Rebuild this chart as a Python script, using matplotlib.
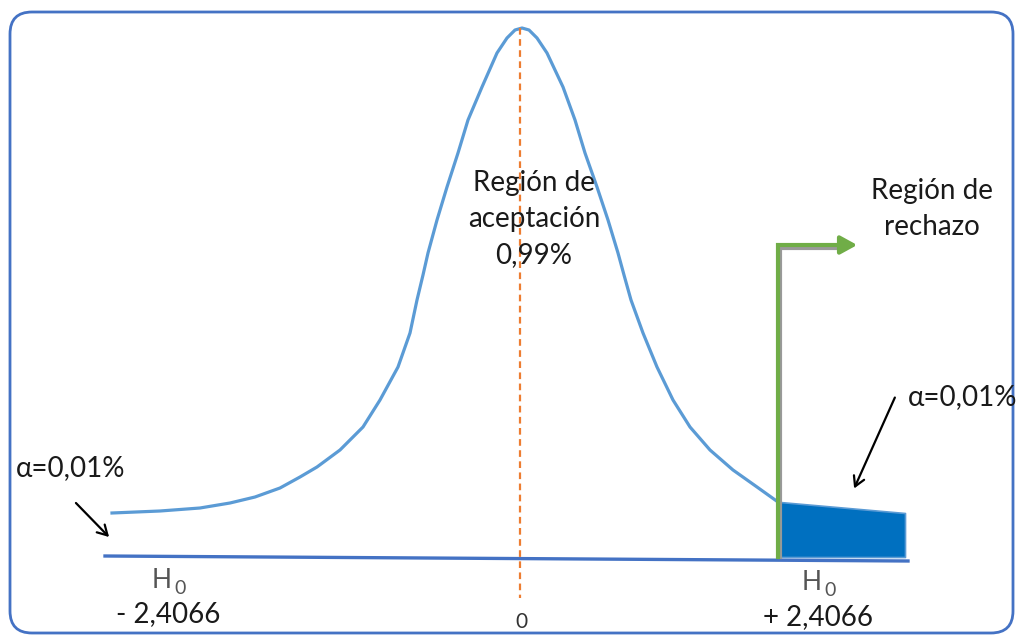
import numpy as np
import matplotlib.pyplot as plt
from matplotlib.patches import FancyBboxPatch

plt.rcParams['font.family'] = ['Lato', 'DejaVu Sans']

# curve (pixel coords, y down)
curve_x = [112, 160, 200, 230, 255, 280, 300, 317, 340, 363, 380, 398, 410, 417, 423, 428, 437, 447, 458, 468,
           482, 497, 507, 515, 522, 529, 537, 547, 563, 575, 585, 597, 608, 618, 624, 631, 643, 657, 673, 690,
           710, 733, 757, 778]
curve_y = [513, 511, 508, 503, 497, 488, 477, 467, 450, 427, 400, 367, 333, 300, 275, 253, 220, 187, 153, 120,
           87, 53, 38, 30, 28, 30, 38, 53, 87, 120, 153, 187, 220, 253, 275, 300, 333, 367, 400, 427,
           450, 470, 487, 502]

# rejection tail
tail_x = [780, 905]
tail_top = [502, 513]
base_y = 557

# baseline
base_x = [105, 908]
base_line_y = [556, 561]

center_x = 520
crit_left = 168
crit_right = 818

blue = '#4472C4'
curve_col = '#5B9BD5'
green = '#70AD47'
orange = '#ED7D31'
txt = '#1a1a1a'

fig = plt.figure(figsize=(10.18, 6.37), dpi=100)
ax = fig.add_axes([0, 0, 1, 1])
ax.set_xlim(0, 1018)
ax.set_ylim(637, 0)
ax.axis('off')

# frame
box = FancyBboxPatch((10, 12), 1003, 621, boxstyle='round,pad=0,rounding_size=22',
                     fill=False, ec=blue, lw=2)
ax.add_patch(box)

ax.plot(curve_x, curve_y, color=curve_col, lw=2.3, solid_joinstyle='round')
ax.fill_between(tail_x, tail_top, base_y, color='#0070C0', ec='#5B9BD5', lw=1.2)
ax.plot(base_x, base_line_y, color=blue, lw=2.4)
ax.plot([center_x, center_x], [28, 598], color=orange, lw=1.6, ls=(0, (3, 2)))

# green arrow with shadow
ax.plot([780, 780, 845], [557, 248, 248], color='#999999', lw=3)
ax.plot([778, 778, 845], [557, 245, 245], color=green, lw=3, solid_joinstyle='miter')
ax.annotate('', xy=(860, 245), xytext=(835, 245),
            arrowprops=dict(arrowstyle='-|>,head_length=1.0,head_width=0.55', color=green, lw=3))

# black arrows
ax.annotate('', xy=(111, 539), xytext=(74, 501),
            arrowprops=dict(arrowstyle='->,head_length=0.7,head_width=0.4', color='black', lw=1.6))
ax.annotate('', xy=(853, 491), xytext=(896, 395),
            arrowprops=dict(arrowstyle='->,head_length=0.7,head_width=0.4', color='black', lw=1.6))

ax.text(534, 219, 'Región de\naceptación\n0,99%', ha='center', va='center', fontsize=20,
        linespacing=1.5, color=txt)
ax.text(932, 209, 'Región de\nrechazo', ha='center', va='center', fontsize=20,
        linespacing=1.5, color=txt)
ax.text(16, 468, 'α=0,01%', ha='left', va='center', fontsize=20, color=txt)
ax.text(908, 397, 'α=0,01%', ha='left', va='center', fontsize=20, color=txt)

for cx, ty in [(crit_left, 580), (crit_right, 583)]:
    ax.text(cx + 4, ty, 'H', ha='right', va='center', fontsize=19, color='#555555')
    ax.text(cx + 6, ty + 8, '0', ha='left', va='center', fontsize=14, color='#555555')

ax.text(crit_left, 614, '- 2,4066', ha='center', va='center', fontsize=20, color=txt)
ax.text(crit_right, 617, '+ 2,4066', ha='center', va='center', fontsize=20, color=txt)
ax.text(center_x + 1, 622, '0', ha='center', va='center', fontsize=15, color='#333333')

fig.savefig('out.png', dpi=100)
